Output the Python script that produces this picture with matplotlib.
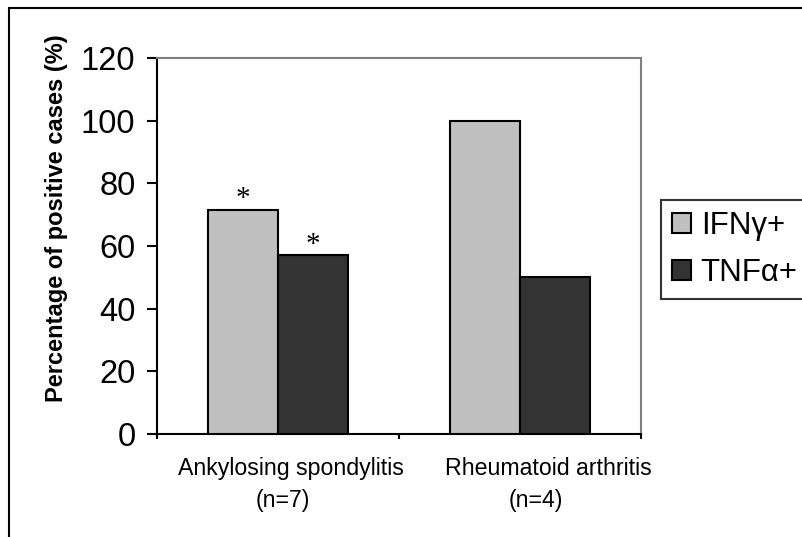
import matplotlib
matplotlib.use('Agg')
import numpy as np
from matplotlib import pyplot as plt
from matplotlib.patches import Rectangle

plt.rcParams['font.family'] = ['Liberation Sans', 'DejaVu Sans']

# percentage of positive cases per disease group
groups = ['Ankylosing spondylitis', 'Rheumatoid arthritis']
groupSizes = ['(n=7)', '(n=4)']
ifnPositive = [71.4, 100.0]
tnfPositive = [57.1, 50.0]
seriesNames = ['IFN\u03b3+', 'TNF\u03b1+']
starred = [True, False]   # significant groups get an asterisk over both bars

fig = plt.figure(figsize=(8.02, 5.37), dpi=100)
ax = fig.add_axes([157/802, 1-434/537, 484/802, 376/537])

centers = np.arange(len(groups)) + 0.5
barWidth = 0.289
ax.bar(centers - barWidth/2, ifnPositive, barWidth, color='#c0c0c0',
       edgecolor='black', linewidth=1.5, label=seriesNames[0], zorder=3)
ax.bar(centers + barWidth/2, tnfPositive, barWidth, color='#333333',
       edgecolor='black', linewidth=1.5, label=seriesNames[1], zorder=3)

for i in range(len(groups)):
    if starred[i]:
        ax.text(centers[i] - barWidth/2, ifnPositive[i] - 0.5, '*',
                ha='center', va='bottom', fontsize=21, family='Liberation Serif')
        ax.text(centers[i] + barWidth/2, tnfPositive[i] - 0.8, '*',
                ha='center', va='bottom', fontsize=21, family='Liberation Serif')

ax.set_xlim(0, 2)
ax.set_ylim(0, 120)
ax.set_yticks(np.arange(0, 121, 20))
ax.set_xticks([0, 1, 2])
ax.set_xticklabels([])
ax.tick_params(axis='y', direction='out', length=7, width=1.5, pad=8.5, labelsize=23.5)
ax.tick_params(axis='x', direction='out', length=3.6, width=1.5)

for side in ['left', 'bottom']:
    ax.spines[side].set_color('black')
    ax.spines[side].set_linewidth(1.5)
for side in ['top', 'right']:
    ax.spines[side].set_color('#808080')
    ax.spines[side].set_linewidth(1.5)

# group names under the axis, sample size on the second line
nameOffsets = [0.054, 0.116]
sizeOffsets = [0.02, 0.066]
for i in range(len(groups)):
    ax.text(centers[i] + nameOffsets[i], -13.1, groups[i], ha='center', va='baseline',
            fontsize=16.7)
    ax.text(centers[i] + sizeOffsets[i], -23.3, groupSizes[i], ha='center', va='baseline',
            fontsize=16.7)

fig.text(57/802, 1-218/537, 'Percentage of positive cases (%)', rotation=90,
         ha='center', va='center', fontsize=17, fontweight='bold')

leg = ax.legend(loc='upper left', bbox_to_anchor=(661/802, 1-200/537),
                bbox_transform=fig.transFigure, fontsize=22.5, frameon=True,
                fancybox=False, borderaxespad=0, borderpad=0.35,
                handlelength=0.62, handleheight=0.62, handletextpad=0.3,
                labelspacing=0.55)
leg.get_frame().set_edgecolor('black')
leg.get_frame().set_linewidth(1.5)

# frame around the whole chart
fig.patches.append(Rectangle((9/802, -0.1), 1.2, 1.1 - 8/537, fill=False,
                             edgecolor='black', linewidth=1.5,
                             transform=fig.transFigure, figure=fig))

fig.savefig('out.png', dpi=100)
